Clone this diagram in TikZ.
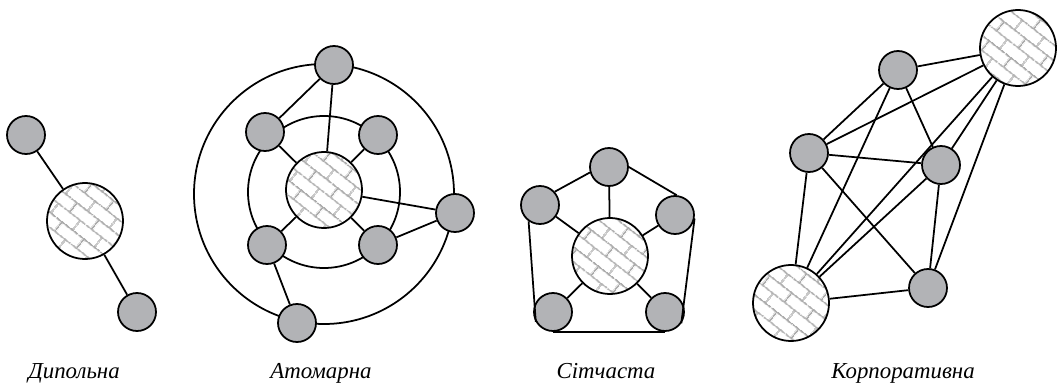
\documentclass[tikz,border=0pt]{standalone}
\usepackage{fontspec}
\setmainfont{Liberation Serif}
\usepackage{xcolor}
\usetikzlibrary{patterns.meta}

\definecolor{nodegray}{RGB}{178,179,182}

\tikzdeclarepattern{
	name=diagbricks,
	type=uncolored,
	bounding box={(0pt,0pt) and (16pt,14pt)},
	tile size={(16pt,14pt)},
	tile transformation={rotate=-38},
	code={
		\draw[line width=1pt] (0pt,3.5pt) -- (16pt,3.5pt);
		\draw[line width=1pt] (0pt,10.5pt) -- (16pt,10.5pt);
		\draw[line width=1pt] (4pt,3.5pt) -- (4pt,10.5pt);
		\draw[line width=1pt] (12pt,10.5pt) -- (12pt,14pt);
		\draw[line width=1pt] (12pt,0pt) -- (12pt,3.5pt);
	}
}

\tikzset{
	smallnode/.style={circle, draw, fill=nodegray, minimum size=7.6mm, inner sep=0pt},
	bignode/.style={circle, draw, preaction={fill=white}, pattern={diagbricks}, pattern color=gray!65, minimum size=15.2mm, inner sep=0pt},
	caption/.style={anchor=base, font=\fontsize{13}{15}\selectfont\itshape}
}

\begin{document}
\begin{tikzpicture}[x=0.2mm, y=-0.2mm, line width=1pt]

	\useasboundingbox (0,0) rectangle (1059,383);

	% dipole
	\node[bignode] (dc) at (85,221) {};
	\node[smallnode] (d1) at (26,135) {};
	\node[smallnode] (d2) at (137,312) {};
	\draw (d1) -- (dc) -- (d2);
	\node[caption] (dlabel) at (74,378) {Дипольна};

	% atomic, two rings first
	\draw (324,192) circle[radius=76];
	\draw (324,194) circle[radius=130];
	\node[bignode] (ac) at (324,190) {};
	\node[smallnode] (at) at (334,65) {};
	\node[smallnode] (aul) at (265,132) {};
	\node[smallnode] (aur) at (378,135) {};
	\node[smallnode] (all) at (267,245) {};
	\node[smallnode] (alr) at (378,245) {};
	\node[smallnode] (ar) at (455,213) {};
	\node[smallnode] (ab) at (297,323) {};
	\draw (at) -- (aul) (at) -- (ac);
	\draw (ac) -- (aul) (ac) -- (aur) (ac) -- (all) (ac) -- (alr) (ac) -- (ar);
	\draw (ar) -- (alr) (all) -- (ab);
	\node[caption] (alabel) at (321,378) {Атомарна};

	% network
	\node[bignode] (nc) at (610,256) {};
	\node[smallnode] (nt) at (609,167) {};
	\node[smallnode] (nl) at (540,205) {};
	\node[smallnode] (nr) at (675,215) {};
	\node[smallnode] (nbl) at (553,312) {};
	\node[smallnode] (nbr) at (665,312) {};
	\draw (nt) -- (nc) (nl) -- (nc) (nr) -- (nc) (nbl) -- (nc) (nbr) -- (nc);
	\draw (nt.196) -- (nl.42);
	\draw (nt.east) -- (nr.85);
	\draw (nl.235) -- (nbl.210);
	\draw (nr.-10) -- (nbr.-35);
	\draw (nbl.south) -- (nbr.south);
	\node[caption] (nlabel) at (606,378) {Сітчаста};

	% corporate
	\node[bignode] (ktr) at (1018,48) {};
	\node[bignode] (kbl) at (791,303) {};
	\node[smallnode] (kt) at (898,70) {};
	\node[smallnode] (kl) at (809,153) {};
	\node[smallnode] (km) at (941,165) {};
	\node[smallnode] (kb) at (928,288) {};
	\draw (kt) -- (ktr) (kt) -- (kl) (kt) -- (km) (kt) -- (kbl);
	\draw (kl) -- (ktr) (kl) -- (km) (kl) -- (kbl) (kl) -- (kb);
	\draw (km) -- (ktr) (km) -- (kbl) (km) -- (kb);
	\draw (ktr) -- (kbl) (ktr) -- (kb) (kb) -- (kbl);
	\node[caption] (klabel) at (903,378) {Корпоративна};

\end{tikzpicture}
\end{document}
